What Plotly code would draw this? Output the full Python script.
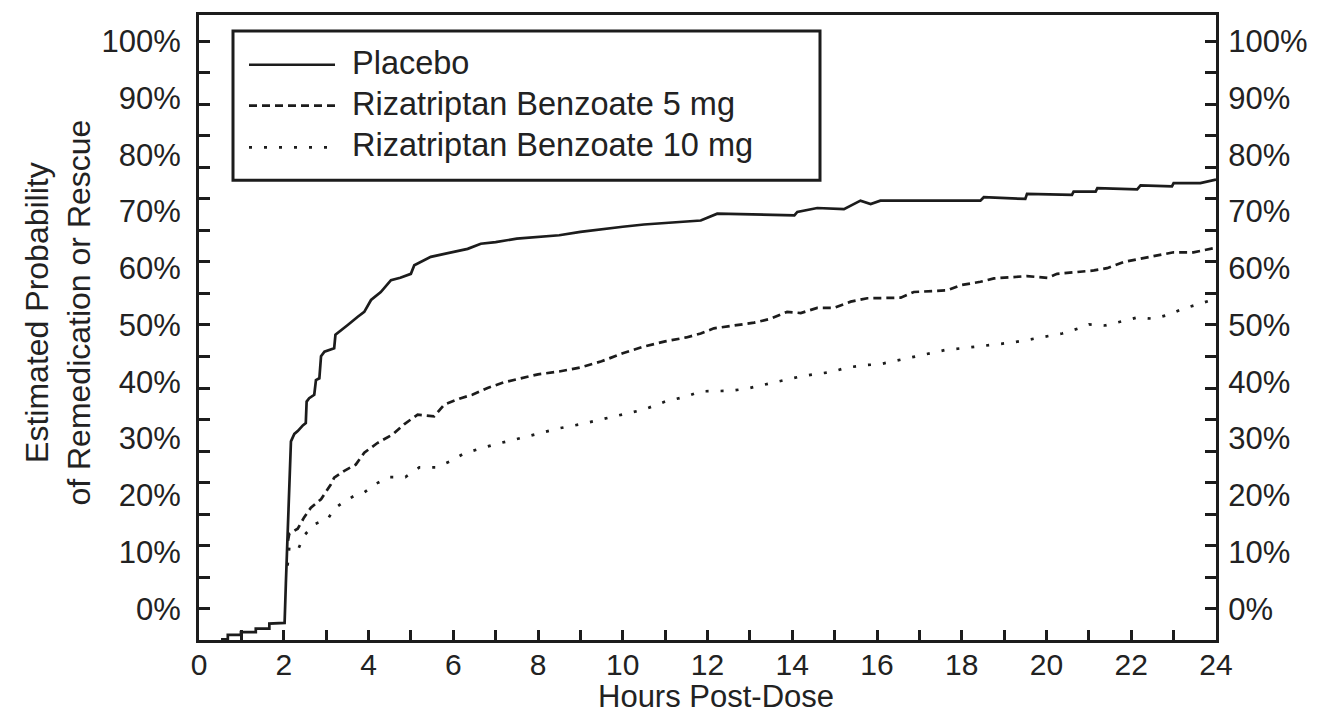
import plotly.graph_objects as go

# ---------------- data ----------------
placebo_hours = [0.52, 0.68, 0.68, 0.99, 0.99, 1.34, 1.34, 1.66, 1.66, 1.97, 2.02, 2.05, 2.10, 2.13,
                 2.17, 2.25, 2.33, 2.45, 2.52, 2.54, 2.60, 2.72, 2.76, 2.84, 2.88, 2.96, 3.19, 3.22,
                 3.35, 3.51, 3.74, 3.90, 4.06, 4.29, 4.53, 4.75, 5.00, 5.08, 5.47, 5.94, 6.34, 6.65,
                 7.0, 7.5, 8.0, 8.5, 9.0, 9.5, 10.0, 10.5, 11.0, 11.5, 11.84, 12.23, 13.0, 14.05,
                 14.12, 14.59, 15.22, 15.45, 15.61, 15.85, 16.08, 18.44, 18.52, 19.50, 19.54, 20.60,
                 20.64, 21.16, 21.20, 22.14, 22.22, 22.96, 23.00, 23.63, 24.0]
placebo_pct = [-5.4, -5.4, -4.6, -4.6, -4.1, -4.1, -3.5, -3.5, -2.6, -2.6, -2.5, 4.5, 16.0, 23.7,
               29.5, 30.8, 31.3, 32.3, 32.7, 36.5, 37.1, 37.7, 40.3, 40.6, 44.5, 45.3, 45.9, 48.3,
               49.0, 50.0, 51.4, 52.3, 54.4, 55.8, 57.9, 58.3, 59.0, 60.5, 62.0, 62.8, 63.4, 64.3,
               64.6, 65.2, 65.5, 65.8, 66.4, 66.9, 67.3, 67.7, 68.0, 68.2, 68.4, 69.6, 69.5, 69.3,
               69.9, 70.6, 70.4, 71.2, 71.9, 71.3, 71.9, 71.9, 72.5, 72.2, 73.1, 72.9,
               73.5, 73.5, 74.1, 73.9, 74.6, 74.4, 75.0, 75.0, 75.6]

riza5_hours = [2.10, 2.13, 2.33, 2.48, 2.64, 2.88, 3.11, 3.19, 3.43, 3.70, 3.90, 4.21, 4.57, 4.84,
               5.16, 5.55, 5.79, 6.18, 6.45, 6.81, 7.2, 7.6, 8.0, 8.5, 9.0, 9.5, 10.0, 10.5, 11.0,
               11.5, 11.84, 12.15, 12.70, 13.10, 13.49, 13.88, 14.20, 14.59, 14.98, 15.38, 15.77,
               16.56, 16.87, 17.66, 17.97, 18.44, 18.76, 19.54, 20.02, 20.25, 21.12, 21.43, 21.83,
               22.22, 22.61, 23.00, 23.47, 24.0]
riza5_pct = [12.0, 13.2, 14.1, 16.1, 17.8, 19.3, 21.9, 23.1, 24.3, 25.4, 27.5, 29.2, 30.7, 32.5,
             34.2, 33.9, 36.0, 37.1, 37.7, 38.9, 39.9, 40.6, 41.3, 41.8, 42.5, 43.6, 45.0, 46.2, 47.1,
             47.8, 48.5, 49.4, 50.0, 50.4, 51.1, 52.3, 52.1, 53.0, 53.0, 54.1, 54.7,
             54.8, 55.8, 56.1, 57.0, 57.6, 58.2, 58.6, 58.3, 59.0, 59.6, 60.0, 61.1,
             61.7, 62.3, 62.8, 62.8, 63.6]

riza10_hours = [2.09, 2.13, 2.33, 2.48, 2.72, 3.04, 3.19, 3.39, 3.66, 3.90, 4.17, 4.49, 4.87, 5.20,
                5.59, 5.94, 6.26, 6.65, 7.0, 7.5, 8.0, 8.5, 9.0, 9.5, 10.0, 10.5, 11.0, 11.5, 11.84,
                12.55, 12.94, 13.33, 13.73, 14.12, 14.51, 14.91, 15.30, 15.69, 16.08, 16.44, 16.83,
                17.22, 17.62, 18.01, 18.40, 18.80, 19.19, 19.58, 19.98, 20.37, 20.76, 21.00, 21.38,
                21.75, 22.14, 22.53, 22.88, 23.20, 23.51, 24.0]
riza10_pct = [7.6, 10.8, 10.3, 12.9, 14.9, 15.8, 17.6, 18.7, 19.9, 20.5, 22.0, 23.2, 23.2, 24.9,
              24.9, 26.0, 27.4, 28.3, 29.0, 29.9, 30.9, 31.8, 32.5, 33.4, 34.3, 35.1, 36.5, 37.4, 38.3,
              38.4, 38.8, 39.5, 40.2, 40.8, 41.3, 41.7, 42.5, 42.9, 43.1, 43.7, 44.3,
              45.0, 45.6, 45.9, 46.2, 46.6, 46.9, 47.4, 47.9, 48.5, 49.4, 50.1, 49.9,
              50.6, 51.3, 51.1, 51.8, 52.8, 53.5, 54.6]

series_names = ["Placebo", "Rizatriptan Benzoate 5 mg", "Rizatriptan Benzoate 10 mg"]
x_tick_hours = list(range(0, 25))
x_tick_text = [str(h) if h % 2 == 0 else "" for h in x_tick_hours]
y_label_vals = [0, 10, 20, 30, 40, 50, 60, 70, 80, 90, 100]
y_label_text = [f"{v}%" for v in y_label_vals]
y_mark_vals = [i * 100 / 18 for i in range(19)]

# ---------------- styling ----------------
SCREEN_W, SCREEN_H = 1320, 723
OFF = 8                      # default page margin of the html body
W, H = SCREEN_W - OFF, SCREEN_H - OFF
PLOT_X0, PLOT_X1, PLOT_Y0, PLOT_Y1 = 199, 1216, 12, 640   # screen pixels of the frame
L, R = PLOT_X0 - OFF, SCREEN_W - PLOT_X1
T, B = PLOT_Y0 - OFF, SCREEN_H - PLOT_Y1
PW, PH = PLOT_X1 - PLOT_X0, PLOT_Y1 - PLOT_Y0
INK = "#1c1c1c"
TXT = "#222"
FONT = "Liberation Sans, Arial, Helvetica, sans-serif"
Y_RANGE = [-5.5, 104.6]
dashes = ["solid", "8px,5px", "3px,12px"]


def px(xs):
    return (xs - PLOT_X0) / PW


def py(ys):
    return (PLOT_Y1 - ys) / PH


fig = go.Figure()
for name, xs, ys, d in zip(series_names, [placebo_hours, riza5_hours, riza10_hours],
                           [placebo_pct, riza5_pct, riza10_pct], dashes):
    fig.add_trace(go.Scatter(x=xs, y=ys, mode="lines", name=name,
                             line=dict(color=INK, width=2.7, dash=d), showlegend=False))

axis_common = dict(showgrid=False, zeroline=False, linecolor=INK, linewidth=3)

fig.update_layout(
    width=W, height=H,
    margin=dict(l=L, r=R, t=T, b=B, pad=0),
    plot_bgcolor="white", paper_bgcolor="white",
    font=dict(family=FONT, color=TXT, size=31),
    xaxis=dict(range=[0, 24], tickmode="array", tickvals=x_tick_hours, ticktext=x_tick_text,
               ticks="inside", ticklen=10, tickwidth=2.5, tickcolor=INK, mirror=True,
               showline=True, tickfont=dict(size=30), ticklabelstandoff=-4, **axis_common),
    yaxis=dict(range=Y_RANGE, tickmode="array", tickvals=y_label_vals, ticktext=y_label_text,
               ticks="", showline=True, side="left", tickfont=dict(size=31),
               ticklabelstandoff=9, **axis_common),
    yaxis2=dict(range=Y_RANGE, tickmode="array", tickvals=y_label_vals, ticktext=y_label_text,
                ticks="", showline=True, side="right", overlaying="y", anchor="x",
                tickfont=dict(size=31), ticklabelstandoff=3, **axis_common),
    yaxis3=dict(range=Y_RANGE, tickmode="array", tickvals=y_mark_vals, showticklabels=False,
                ticks="inside", ticklen=11, tickwidth=2.5, tickcolor=INK, side="left",
                overlaying="y", anchor="x", showline=False, showgrid=False, zeroline=False),
    yaxis4=dict(range=Y_RANGE, tickmode="array", tickvals=y_mark_vals, showticklabels=False,
                ticks="inside", ticklen=11, tickwidth=2.5, tickcolor=INK, side="right",
                overlaying="y", anchor="x", showline=False, showgrid=False, zeroline=False),
)

# invisible helper traces so the overlay axes are drawn
for ax in ["y2", "y3", "y4"]:
    fig.add_trace(go.Scatter(x=[None], y=[None], yaxis=ax, showlegend=False, hoverinfo="skip"))

# axis titles
fig.add_annotation(text="Estimated Probability<br>of Remedication or Rescue", textangle=-90,
                   xref="paper", yref="paper", x=px(58), y=py(311), xanchor="center",
                   yanchor="middle", showarrow=False, font=dict(size=32, color=TXT))
fig.add_annotation(text="Hours Post-Dose", xref="paper", yref="paper", x=px(716), y=py(697),
                   xanchor="center", yanchor="middle", showarrow=False,
                   font=dict(size=31, color=TXT))

# legend box
fig.add_shape(type="rect", xref="paper", yref="paper", x0=px(233), x1=px(820), y0=py(178),
              y1=py(28), line=dict(color=INK, width=3), fillcolor="white", layer="above")
legend_rows = [62, 103, 145]
for name, d, yrow in zip(series_names, dashes, legend_rows):
    fig.add_shape(type="line", xref="paper", yref="paper", x0=px(249), x1=px(335), y0=py(yrow),
                  y1=py(yrow), line=dict(color=INK, width=2.7, dash=d), layer="above")
    fig.add_annotation(text=name, xref="paper", yref="paper", x=px(350), y=py(yrow - 2),
                       xanchor="left", yanchor="middle", showarrow=False,
                       font=dict(size=32.5, color=TXT))

fig.write_html("out.html")
